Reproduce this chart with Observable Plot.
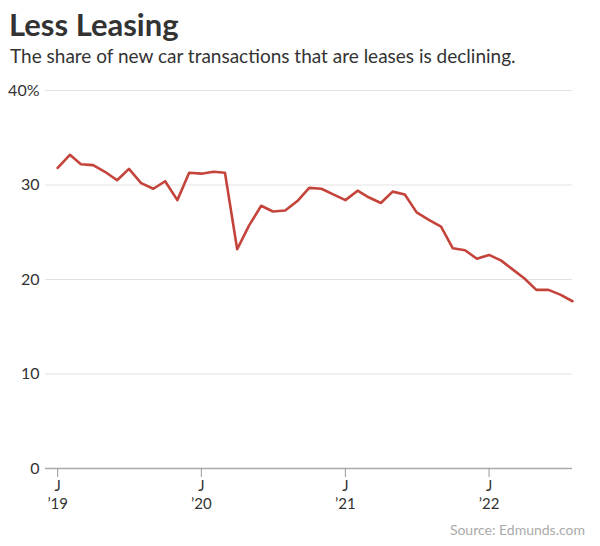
<!DOCTYPE html>
<html><head><meta charset="utf-8">
<script src="https://cdn.jsdelivr.net/npm/d3@7"></script>
<script src="https://cdn.jsdelivr.net/npm/@observablehq/plot@0.6"></script>
<style>
body{margin:0;background:#fff;font-family:Lato,"Noto Sans",sans-serif;color:#333;}
#wrap{width:600px;height:546px;position:relative;overflow:hidden;}
#title{position:absolute;left:9px;top:5px;font-size:31px;line-height:normal;font-weight:700;color:#333;letter-spacing:0px;white-space:nowrap;}
#sub{position:absolute;left:10px;top:41px;font-size:19px;line-height:normal;color:#333;white-space:nowrap;}
#chart{position:absolute;left:0;top:70px;}
#src{position:absolute;right:15px;top:521px;font-size:14px;color:#aaa;}
</style></head>
<body><div id="wrap">
<div id="title">Less Leasing</div>
<div id="sub">The share of new car transactions that are leases is declining.</div>
<div id="chart"></div>
<div id="src">Source: Edmunds.com</div>
</div>
<script>
const months = ["2019-01","2019-02","2019-03","2019-04","2019-05","2019-06","2019-07","2019-08","2019-09","2019-10","2019-11","2019-12",
"2020-01","2020-02","2020-03","2020-04","2020-05","2020-06","2020-07","2020-08","2020-09","2020-10","2020-11","2020-12",
"2021-01","2021-02","2021-03","2021-04","2021-05","2021-06","2021-07","2021-08","2021-09","2021-10","2021-11","2021-12",
"2022-01","2022-02","2022-03","2022-04","2022-05","2022-06","2022-07","2022-08"];
const leaseShare = [31.8,33.2,32.2,32.1,31.4,30.5,31.7,30.2,29.6,30.4,28.4,31.3,
31.2,31.4,31.3,23.2,25.7,27.8,27.2,27.3,28.3,29.7,29.6,29.0,
28.4,29.4,28.7,28.1,29.3,29.0,27.1,26.3,25.6,23.3,23.1,22.2,
22.6,22.0,21.1,20.1,18.9,18.9,18.4,17.7];
const yTicks = [0,10,20,30,40];
const xTickDates = ["2019-01","2020-01","2021-01","2022-01"];
const xMonthLabels = ["J","J","J","J"];
const xYearLabels = ["\u201919","\u201920","\u201921","\u201922"];

const parse = d3.utcParse("%Y-%m");
const data = months.map((m,i)=>({date:parse(m), value:leaseShare[i]}));
const xt = xTickDates.map(parse);
const xTicksData = xt.map((d,i)=>({date:d, month:xMonthLabels[i], year:xYearLabels[i]}));

const chart = Plot.plot({
  width:600, height:446,
  marginLeft:45, marginRight:28, marginTop:20, marginBottom:48,
  style:{fontFamily:"Lato, 'Noto Sans', sans-serif", fontSize:"15px", color:"#333", background:"#fff"},
  x:{type:"utc", domain:[parse("2018-12"), parse("2022-08")]},
  y:{domain:[0,40]},
  marks:[
    Plot.ruleY(yTicks.filter(d=>d>0), {stroke:"#e2e2e2", strokeWidth:1}),
    Plot.axisY({ticks:yTicks, tickSize:0, tickPadding:6, fontSize:16, tickFormat:d=>d===40?"40%":String(d), label:null}),
    Plot.ruleY([0], {stroke:"#aaa", strokeWidth:1.5}),
    Plot.axisX({ticks:xt, tickSize:9, tickPadding:3, stroke:"#999", fontSize:15,
      tickFormat:d=>xMonthLabels[xt.findIndex(t=>+t===+d)], label:null}),
    Plot.text(xTicksData, {x:"date", text:"year", frameAnchor:"bottom", lineAnchor:"top", dy:30, fontSize:15, fill:"#333"}),
    Plot.line(data, {x:"date", y:"value", stroke:"#c4443c", strokeWidth:2.6, strokeLinejoin:"round"})
  ]
});
document.getElementById("chart").appendChild(chart);

// keep title and subtitle text boxes from touching
function textRect(el){const r=document.createRange();r.selectNodeContents(el);return r.getBoundingClientRect();}
const t=document.getElementById("title"), s=document.getElementById("sub");
const tb=textRect(t).bottom, st=textRect(s).top;
if(tb>st-0.5){s.style.top=(parseFloat(getComputedStyle(s).top)+(tb-st)+1)+"px";}
</script>
</body></html>
